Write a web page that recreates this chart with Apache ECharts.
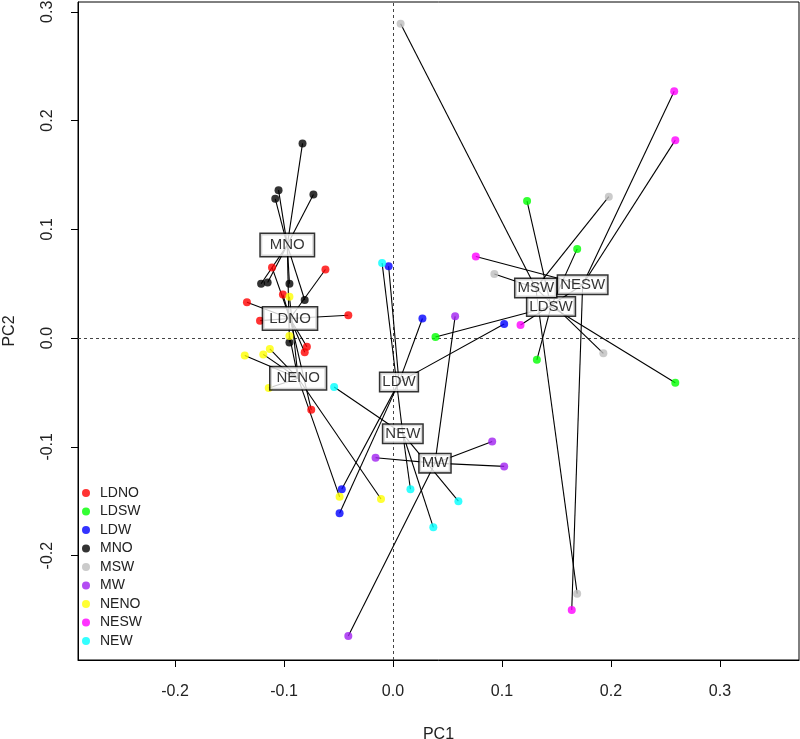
<!DOCTYPE html>
<html>
<head>
<meta charset="UTF-8">
<title>PC1 / PC2 spider plot</title>
<script src="https://cdn.jsdelivr.net/npm/echarts@6/dist/echarts.min.js"></script>
<style>
  html, body { margin: 0; padding: 0; background: #fff; }
  #chart { width: 800px; height: 739px; }
</style>
</head>
<body>
<div id="chart"></div>
<script>
// groups, in legend order
const groups = ['LDNO', 'LDSW', 'LDW', 'MNO', 'MSW', 'MW', 'NENO', 'NESW', 'NEW'];

// scores [PC1, PC2] of each sample, per group
const ldno = [[-0.111, 0.065], [-0.062, 0.063], [-0.101, 0.040], [-0.134, 0.033], [-0.122, 0.016],
              [-0.041, 0.021], [-0.079, -0.008], [-0.081, -0.013], [-0.075, -0.066]];
const ldsw = [[0.123, 0.126], [0.169, 0.082], [0.132, -0.020], [0.259, -0.041], [0.039, 0.001]];
const ldw  = [[-0.004, 0.066], [0.027, 0.018], [-0.047, -0.139], [-0.049, -0.161], [0.102, 0.013]];
const mno  = [[-0.083, 0.179], [-0.105, 0.136], [-0.108, 0.128], [-0.073, 0.132], [-0.121, 0.050],
              [-0.115, 0.051], [-0.095, 0.050], [-0.081, 0.035], [-0.095, -0.004]];
const msw  = [[0.007, 0.289], [0.198, 0.130], [0.093, 0.059], [0.193, -0.014], [0.169, -0.235]];
const mw   = [[0.057, 0.020], [0.091, -0.095], [-0.016, -0.110], [-0.041, -0.274], [0.102, -0.118]];
const neno = [[-0.095, 0.038], [-0.136, -0.016], [-0.119, -0.015], [-0.113, -0.010], [-0.114, -0.046],
              [-0.095, 0.002], [-0.049, -0.146], [-0.011, -0.148]];
const nesw = [[0.258, 0.227], [0.259, 0.182], [0.076, 0.075], [0.117, 0.012], [0.164, -0.250]];
const newg = [[-0.010, 0.069], [-0.054, -0.045], [0.016, -0.139], [0.060, -0.150], [0.037, -0.174]];
const points = [ldno, ldsw, ldw, mno, msw, mw, neno, nesw, newg];

// group centres, where the name boxes sit
const centroids = [[-0.0945, 0.018], [0.145, 0.029], [0.0055, -0.0405], [-0.097, 0.0855], [0.131, 0.046],
                   [0.0385, -0.115], [-0.087, -0.037], [0.174, 0.049], [0.009, -0.088]];

const xTicks = [-0.2, -0.1, 0, 0.1, 0.2, 0.3];
const yTicks = [-0.2, -0.1, 0, 0.1, 0.2, 0.3];

// R colours
const colors = ['#ff0000', '#00ff00', '#0000ff', '#000000', '#bebebe', '#a020f0', '#ffff00', '#ff00ff', '#00ffff'];

const font = 'Liberation Sans, Arial, sans-serif';
const chart = echarts.init(document.getElementById('chart'));

const series = [];
groups.forEach((g, i) => {
    // spokes from every sample to its group centre
    series.push({
        type: 'lines',
        coordinateSystem: 'cartesian2d',
        silent: true,
        z: 2,
        lineStyle: { color: '#000', width: 1.1, opacity: 1 },
        data: points[i].map(p => ({ coords: [p, centroids[i]] }))
    });
    series.push({
        name: g,
        type: 'scatter',
        symbol: 'circle',
        symbolSize: 8,
        z: 3,
        itemStyle: { color: colors[i] },
        data: points[i]
    });
});

// name boxes on the centres (the "NO" ones are drawn a bit bigger)
series.push({
    type: 'scatter',
    symbolSize: 0,
    silent: true,
    z: 5,
    label: {
        show: true,
        position: 'inside',
        formatter: p => p.name,
        fontFamily: font,
        fontSize: 15,
        color: '#000',
        textBorderWidth: 0,
        backgroundColor: '#fff',
        borderColor: '#000',
        borderWidth: 1.5
    },
    data: groups.map((g, i) => ({
        name: g,
        value: centroids[i],
        label: { padding: g === 'MNO' ? [4, 9, 3, 9] : g.endsWith('NO') ? [4, 6, 3, 6] : [2, 2, 1, 2] }
    })),
    markLine: {
        silent: true,
        symbol: ['none', 'none'],
        z: 1,
        label: { show: false },
        lineStyle: { color: '#444', type: [3, 3], width: 1 },
        data: [{ xAxis: 0 }, { yAxis: 0 }]
    }
});

chart.setOption({
    animation: false,
    grid: {
        left: 78, right: 1, top: 2, bottom: 79,
        outerBoundsMode: 'none', containLabel: false,
        show: true, borderColor: '#000', borderWidth: 1
    },
    legend: {
        data: groups,
        orient: 'vertical',
        left: 82,
        top: 486,
        padding: 0,
        itemWidth: 18,
        itemHeight: 8,
        itemGap: 4.5,
        textStyle: { fontFamily: font, fontSize: 14, color: '#222', lineHeight: 14 }
    },
    xAxis: {
        type: 'value',
        min: -0.289,
        max: 0.3725,
        name: 'PC1',
        nameLocation: 'middle',
        nameGap: 67,
        nameTextStyle: { fontFamily: font, fontSize: 16, color: '#222' },
        axisLine: { show: true, onZero: false, lineStyle: { color: '#000' } },
        axisTick: { show: true, length: 7, customValues: xTicks, lineStyle: { color: '#000' } },
        axisLabel: { customValues: xTicks, margin: 24, fontFamily: font, fontSize: 16, color: '#222',
                     formatter: v => v.toFixed(1) },
        splitLine: { show: false }
    },
    yAxis: {
        type: 'value',
        min: -0.296,
        max: 0.309,
        name: 'PC2',
        nameLocation: 'middle',
        nameGap: 60,
        nameTextStyle: { fontFamily: font, fontSize: 16, color: '#222' },
        axisLine: { show: true, onZero: false, lineStyle: { color: '#000' } },
        axisTick: { show: true, length: 7, customValues: yTicks, lineStyle: { color: '#000' } },
        axisLabel: { customValues: yTicks, rotate: 90, margin: 22, fontFamily: font, fontSize: 16, color: '#222',
                     formatter: v => v.toFixed(1) },
        splitLine: { show: false }
    },
    series: series
});
</script>
</body>
</html>
